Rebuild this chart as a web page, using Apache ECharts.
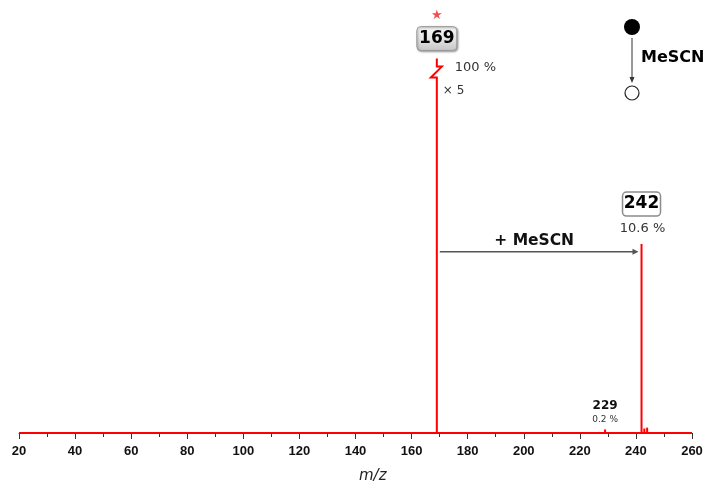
<!DOCTYPE html>
<html>
<head>
<meta charset="utf-8">
<script src="https://cdn.jsdelivr.net/npm/echarts@6/dist/echarts.min.js"></script>
<style>
  html, body { margin: 0; padding: 0; background: #fff; }
  #chart { width: 707px; height: 486px; }
</style>
</head>
<body>
<div id="chart"></div>
<script>
// Peaks: m/z and relative intensity (%)
const peakMz        = [169, 229, 242, 243, 244];
const peakIntensity = [100, 0.2, 10.6, 0.25, 0.3];
// Peaks that carry a text label
const labelMz    = [169, 229, 242];
const labelText  = ['169', '229', '242'];
const labelPct   = ['100 %', '0.2 %', '10.6 %'];
const labelStyle = ['box-grey', 'plain', 'box-white'];

const basePeakMz   = 169;   // drawn broken, not magnified
const magnify      = 5;     // all other peaks are shown ×5
const xMin = 20, xMax = 260, xStep = 20;
const yTop = 105;           // plot ceiling in display units

// Addition step: from precursor to product
const stepFrom = 169, stepTo = 242, stepLabel = '+ MeSCN', reagent = 'MeSCN';

const RED = '#ff0000';
const TXT_FONT = '"DejaVu Sans", Verdana, sans-serif';

function displayValue(mz, pct) {
  return mz === basePeakMz ? yTop : pct * magnify;
}

const stickData = peakMz.map((mz, i) => [mz, displayValue(mz, peakIntensity[i]), mz === basePeakMz ? 1 : 0]);
const labelData = labelMz.map((mz, i) => {
  const j = peakMz.indexOf(mz);
  return [mz, displayValue(mz, peakIntensity[j]), i];
});

function renderStick(params, api) {
  const mz = api.value(0), v = api.value(1);
  const p0 = api.coord([mz, 0]);
  const p1 = api.coord([mz, v]);
  const style = { stroke: RED, lineWidth: 2, fill: null, lineJoin: 'miter' };
  if (api.value(2)) {
    // broken base peak: zig-zag a little below the ceiling
    const x = p0[0];
    const yb = p1[1] + 19, ya = p1[1] + 8;
    return {
      type: 'polyline',
      shape: { points: [[x, p0[1]], [x, yb], [x - 6, yb], [x + 5, ya], [x, ya], [x, p1[1]]] },
      style: style
    };
  }
  return { type: 'line', shape: { x1: p0[0], y1: p0[1], x2: p1[0], y2: p1[1] }, style: style };
}

function renderLabel(params, api) {
  const mz = api.value(0), v = api.value(1), k = api.value(2);
  const p = api.coord([mz, v]);
  const kind = labelStyle[k];
  const children = [];
  if (kind === 'box-grey') {
    children.push({
      type: 'text', x: p[0], y: p[1] - 43,
      style: { text: '★', fill: '#f05050', font: '13px "DejaVu Sans"', align: 'center', verticalAlign: 'middle' }
    });
    children.push({
      type: 'rect', shape: { x: p[0] - 20, y: p[1] - 32, width: 40, height: 24, r: 4 },
      style: {
        fill: new echarts.graphic.LinearGradient(0, 0, 0, 1, [
          { offset: 0, color: '#f6f6f6' }, { offset: 0.5, color: '#e6e6e6' }, { offset: 1, color: '#c4c4c4' }
        ]),
        stroke: '#9a9a9a', lineWidth: 1,
        shadowBlur: 2, shadowColor: 'rgba(0,0,0,0.35)', shadowOffsetX: 1, shadowOffsetY: 1
      }
    });
    children.push({
      type: 'text', x: p[0], y: p[1] - 20,
      style: { text: labelText[k], fill: '#000', font: 'bold 17px ' + TXT_FONT, align: 'center', verticalAlign: 'middle' }
    });
    children.push({
      type: 'text', x: p[0] + 18, y: p[1] + 9,
      style: { text: labelPct[k], fill: '#333', font: '13px ' + TXT_FONT, align: 'left', verticalAlign: 'middle' }
    });
    children.push({
      type: 'text', x: p[0] + 6, y: p[1] + 32,
      style: { text: '× ' + magnify, fill: '#333', font: '12px ' + TXT_FONT, align: 'left', verticalAlign: 'middle' }
    });
  } else if (kind === 'box-white') {
    children.push({
      type: 'rect', shape: { x: p[0] - 19, y: p[1] - 52, width: 38, height: 24, r: 4 },
      style: { fill: '#fff', stroke: '#8c8c8c', lineWidth: 1.5 }
    });
    children.push({
      type: 'text', x: p[0], y: p[1] - 40,
      style: { text: labelText[k], fill: '#000', font: 'bold 17px ' + TXT_FONT, align: 'center', verticalAlign: 'middle' }
    });
    children.push({
      type: 'text', x: p[0] + 1, y: p[1] - 15,
      style: { text: labelPct[k], fill: '#333', font: '13px ' + TXT_FONT, align: 'center', verticalAlign: 'middle' }
    });
  } else {
    children.push({
      type: 'text', x: p[0], y: p[1] - 24,
      style: { text: labelText[k], fill: '#111', font: 'bold 12px ' + TXT_FONT, align: 'center', verticalAlign: 'middle' }
    });
    children.push({
      type: 'text', x: p[0], y: p[1] - 10,
      style: { text: labelPct[k], fill: '#333', font: '9px ' + TXT_FONT, align: 'center', verticalAlign: 'middle' }
    });
  }
  return { type: 'group', children: children };
}

function renderStep(params, api) {
  const a = api.coord([api.value(0), api.value(2)]);
  const b = api.coord([api.value(1), api.value(2)]);
  const x1 = a[0] + 3, x2 = b[0] - 3, y = a[1];
  return {
    type: 'group',
    children: [
      { type: 'line', shape: { x1: x1, y1: y, x2: x2 - 5, y2: y }, style: { stroke: '#555', lineWidth: 1.5 } },
      { type: 'polygon', shape: { points: [[x2, y], [x2 - 6, y - 3], [x2 - 6, y + 3]] }, style: { fill: '#555' } },
      { type: 'text', x: (x1 + x2) / 2 - 5, y: y - 11,
        style: { text: stepLabel, fill: '#111', font: 'bold 15.5px ' + TXT_FONT, align: 'center', verticalAlign: 'middle' } }
    ]
  };
}

const chart = echarts.init(document.getElementById('chart'), null, { renderer: 'canvas' });
chart.setOption({
  animation: false,
  grid: { left: 19, right: 15, top: 58.6, bottom: 53, containLabel: false },
  xAxis: {
    type: 'value', min: xMin, max: xMax, interval: xStep,
    axisLine: { show: true, onZero: false, lineStyle: { color: '#333', width: 1 } },
    axisTick: { show: true, inside: false, length: 6, lineStyle: { color: '#333', width: 1 } },
    minorTick: { show: true, splitNumber: 2, length: 4, lineStyle: { color: '#333', width: 1 } },
    splitLine: { show: false },
    axisLabel: { color: '#111', fontWeight: 'bold', fontSize: 13, fontFamily: '"Liberation Sans", Arial, sans-serif', margin: 12 }
  },
  yAxis: { type: 'value', min: 0, max: yTop, show: false },
  series: [
    {
      type: 'line', data: [[xMin, 0], [xMax, 0]], symbol: 'none',
      lineStyle: { color: RED, width: 2 }, z: 3
    },
    { type: 'custom', data: stickData, renderItem: renderStick, z: 4 },
    { type: 'custom', data: labelData, renderItem: renderLabel, z: 5 },
    { type: 'custom', data: [[stepFrom, stepTo, 50.8]], renderItem: renderStep, z: 5 }
  ],
  graphic: [
    { type: 'text', left: 359, top: 469,
      style: { text: 'm/z', fill: '#222', font: 'italic 15px "DejaVu Sans", Verdana, sans-serif' } },
    // reaction scheme: filled → open
    { type: 'circle', shape: { cx: 632, cy: 27, r: 8 }, style: { fill: '#000' } },
    { type: 'line', shape: { x1: 632, y1: 38, x2: 632, y2: 80 }, style: { stroke: '#333', lineWidth: 1 } },
    { type: 'polygon', shape: { points: [[632, 83], [629.5, 77], [634.5, 77]] }, style: { fill: '#333' } },
    { type: 'circle', shape: { cx: 632, cy: 93, r: 7 }, style: { fill: '#fff', stroke: '#222', lineWidth: 1.2 } },
    { type: 'text', left: 641, top: 50,
      style: { text: reagent, fill: '#000', font: 'bold 16px "DejaVu Sans", Verdana, sans-serif' } }
  ]
});
</script>
</body>
</html>
